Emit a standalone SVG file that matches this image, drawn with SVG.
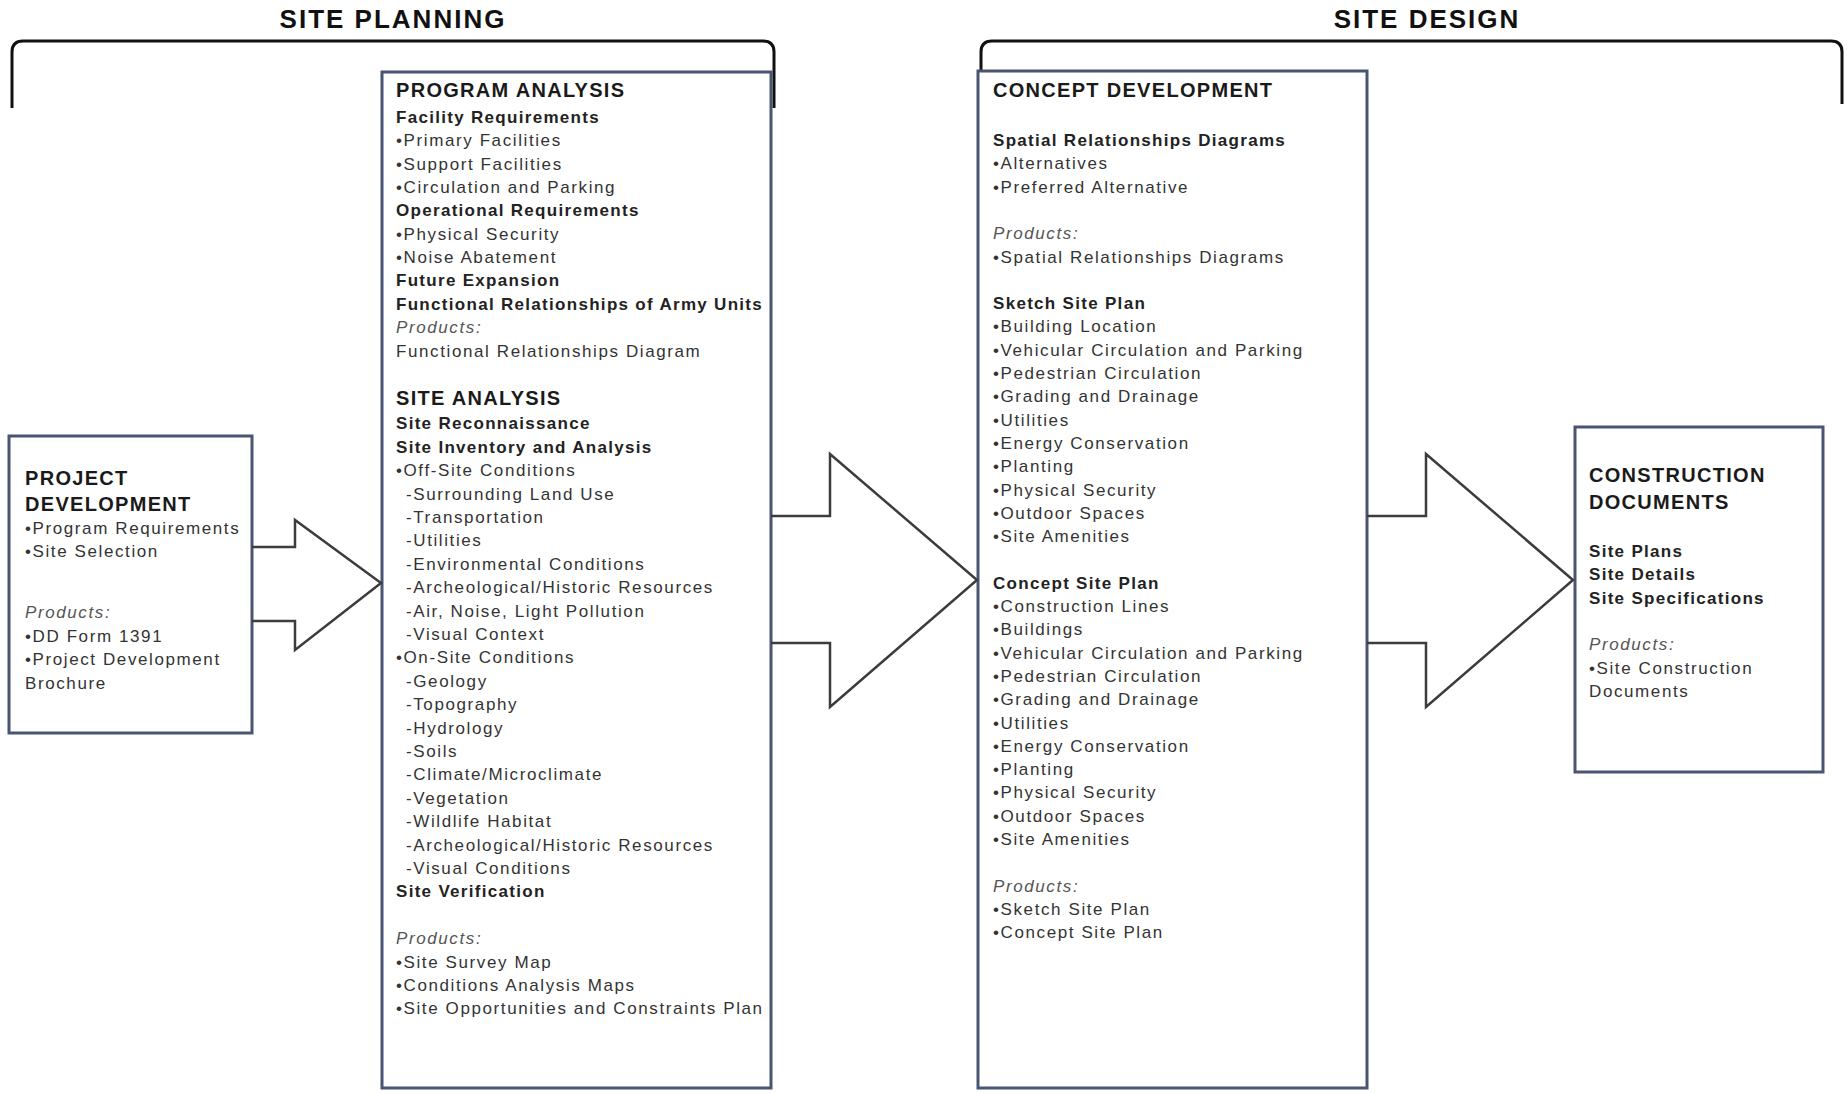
<svg xmlns="http://www.w3.org/2000/svg" width="1848" height="1094" viewBox="0 0 1848 1094">
<style>
.title{font-family:"Liberation Sans",Arial,sans-serif;font-weight:bold;font-size:26px;letter-spacing:2px;fill:#111;text-anchor:middle}
.h{font-family:"Liberation Sans",Arial,sans-serif;font-weight:bold;font-size:20px;letter-spacing:1.3px;fill:#1a1a1a}
.b{font-family:"Liberation Sans",Arial,sans-serif;font-weight:bold;font-size:17px;letter-spacing:1.3px;fill:#222}
.t{font-family:"Liberation Sans",Arial,sans-serif;font-size:17px;letter-spacing:1.6px;fill:#333}
.p{font-family:"Liberation Sans",Arial,sans-serif;font-style:italic;font-size:17px;letter-spacing:1.6px;fill:#555}
.box{fill:#fff;stroke:#4a5573;stroke-width:3}
.brace{fill:none;stroke:#111;stroke-width:3}
.arrow{fill:none;stroke:#3c3c3c;stroke-width:2.5;stroke-linejoin:miter}
</style>
<rect width="1848" height="1094" fill="#fff"/>

<g id="brace-site-planning">
<path class="brace" d="M12,108 L12,52 Q12,41 23,41 L763,41 Q774,41 774,52 L774,108"/>
<text class="title" x="393" y="28">SITE PLANNING</text>
</g>
<g id="brace-site-design">
<path class="brace" d="M981,104 L981,52 Q981,41 992,41 L1831,41 Q1842,41 1842,52 L1842,104"/>
<text class="title" x="1427" y="28">SITE DESIGN</text>
</g>

<g id="project-development">
<rect class="box" x="9" y="436" width="243" height="297"/>
<text class="h" x="25" y="485">PROJECT</text>
<text class="h" x="25" y="511">DEVELOPMENT</text>
<text class="t" x="25" y="533.5">•Program Requirements</text>
<text class="t" x="25" y="557">•Site Selection</text>
<text class="p" x="25" y="618">Products:</text>
<text class="t" x="25" y="641.5">•DD Form 1391</text>
<text class="t" x="25" y="665">•Project Development</text>
<text class="t" x="25" y="688.5">Brochure</text>
</g>

<g id="program-analysis">
<rect class="box" x="382" y="72" width="389" height="1016"/>
<text class="h" x="396" y="97">PROGRAM ANALYSIS</text>
<text class="b" x="396" y="122.7">Facility Requirements</text>
<text class="t" x="396" y="146">•Primary Facilities</text>
<text class="t" x="396" y="169.5">•Support Facilities</text>
<text class="t" x="396" y="192.9">•Circulation and Parking</text>
<text class="b" x="396" y="216.3">Operational Requirements</text>
<text class="t" x="396" y="239.7">•Physical Security</text>
<text class="t" x="396" y="263">•Noise Abatement</text>
<text class="b" x="396" y="286.4">Future Expansion</text>
<text class="b" x="396" y="309.8">Functional Relationships of Army Units</text>
<text class="p" x="396" y="333.2">Products:</text>
<text class="t" x="396" y="356.6">Functional Relationships Diagram</text>
<text class="h" x="396" y="405">SITE ANALYSIS</text>
<text class="b" x="396" y="429.3">Site Reconnaissance</text>
<text class="b" x="396" y="452.7">Site Inventory and Analysis</text>
<text class="t" x="396" y="476.1">•Off-Site Conditions</text>
<text class="t" x="406" y="499.5">-Surrounding Land Use</text>
<text class="t" x="406" y="522.9">-Transportation</text>
<text class="t" x="406" y="546.3">-Utilities</text>
<text class="t" x="406" y="569.7">-Environmental Conditions</text>
<text class="t" x="406" y="593.1">-Archeological/Historic Resources</text>
<text class="t" x="406" y="616.5">-Air, Noise, Light Pollution</text>
<text class="t" x="406" y="639.9">-Visual Context</text>
<text class="t" x="396" y="663.3">•On-Site Conditions</text>
<text class="t" x="406" y="686.7">-Geology</text>
<text class="t" x="406" y="710.1">-Topography</text>
<text class="t" x="406" y="733.5">-Hydrology</text>
<text class="t" x="406" y="756.9">-Soils</text>
<text class="t" x="406" y="780.3">-Climate/Microclimate</text>
<text class="t" x="406" y="803.7">-Vegetation</text>
<text class="t" x="406" y="827.1">-Wildlife Habitat</text>
<text class="t" x="406" y="850.5">-Archeological/Historic Resources</text>
<text class="t" x="406" y="873.9">-Visual Conditions</text>
<text class="b" x="396" y="897.3">Site Verification</text>
<text class="p" x="396" y="944.1">Products:</text>
<text class="t" x="396" y="967.5">•Site Survey Map</text>
<text class="t" x="396" y="990.9">•Conditions Analysis Maps</text>
<text class="t" x="396" y="1014.3">•Site Opportunities and Constraints Plan</text>
</g>

<g id="concept-development">
<rect class="box" x="978" y="71" width="389" height="1017"/>
<text class="h" x="993" y="97">CONCEPT DEVELOPMENT</text>
<text class="b" x="993" y="146">Spatial Relationships Diagrams</text>
<text class="t" x="993" y="169.3">•Alternatives</text>
<text class="t" x="993" y="192.6">•Preferred Alternative</text>
<text class="p" x="993" y="239.2">Products:</text>
<text class="t" x="993" y="262.5">•Spatial Relationships Diagrams</text>
<text class="b" x="993" y="309.1">Sketch Site Plan</text>
<text class="t" x="993" y="332.4">•Building Location</text>
<text class="t" x="993" y="355.7">•Vehicular Circulation and Parking</text>
<text class="t" x="993" y="379">•Pedestrian Circulation</text>
<text class="t" x="993" y="402.3">•Grading and Drainage</text>
<text class="t" x="993" y="425.6">•Utilities</text>
<text class="t" x="993" y="448.9">•Energy Conservation</text>
<text class="t" x="993" y="472.2">•Planting</text>
<text class="t" x="993" y="495.5">•Physical Security</text>
<text class="t" x="993" y="518.8">•Outdoor Spaces</text>
<text class="t" x="993" y="542.1">•Site Amenities</text>
<text class="b" x="993" y="588.7">Concept Site Plan</text>
<text class="t" x="993" y="612">•Construction Lines</text>
<text class="t" x="993" y="635.3">•Buildings</text>
<text class="t" x="993" y="658.6">•Vehicular Circulation and Parking</text>
<text class="t" x="993" y="681.9">•Pedestrian Circulation</text>
<text class="t" x="993" y="705.2">•Grading and Drainage</text>
<text class="t" x="993" y="728.5">•Utilities</text>
<text class="t" x="993" y="751.8">•Energy Conservation</text>
<text class="t" x="993" y="775.1">•Planting</text>
<text class="t" x="993" y="798.4">•Physical Security</text>
<text class="t" x="993" y="821.7">•Outdoor Spaces</text>
<text class="t" x="993" y="845">•Site Amenities</text>
<text class="p" x="993" y="891.6">Products:</text>
<text class="t" x="993" y="914.9">•Sketch Site Plan</text>
<text class="t" x="993" y="938.2">•Concept Site Plan</text>
</g>

<g id="construction-documents">
<rect class="box" x="1575" y="427" width="248" height="345"/>
<text class="h" x="1589" y="482">CONSTRUCTION</text>
<text class="h" x="1589" y="509">DOCUMENTS</text>
<text class="b" x="1589" y="557">Site Plans</text>
<text class="b" x="1589" y="580">Site Details</text>
<text class="b" x="1589" y="603.5">Site Specifications</text>
<text class="p" x="1589" y="650">Products:</text>
<text class="t" x="1589" y="673.5">•Site Construction</text>
<text class="t" x="1589" y="697">Documents</text>
</g>

<g id="connectors">
<polyline class="arrow" points="252,547 295,547 295,520 381,583 295,650 295,621 252,621"/>
<polyline class="arrow" points="771,516 830,516 830,454 977,580 830,707 830,643 771,643"/>
<polyline class="arrow" points="1367,516 1426,516 1426,454 1573,580 1426,707 1426,643 1367,643"/>
</g>
</svg>
